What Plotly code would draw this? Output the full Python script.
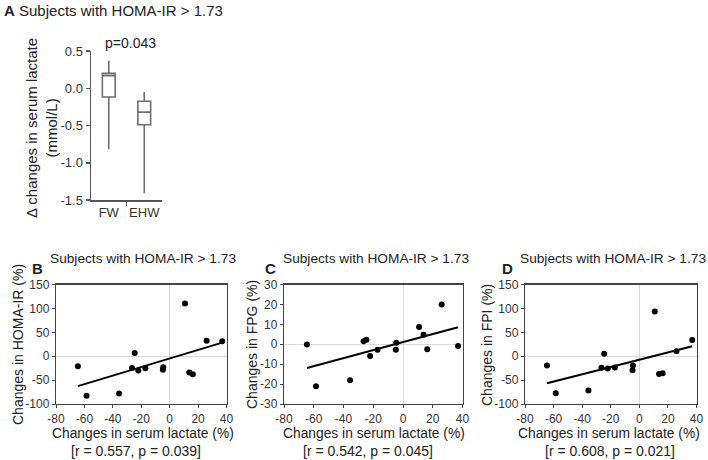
import numpy as np
import plotly.graph_objects as go

W, H = 708, 460
FONT = "Liberation Sans, Arial, sans-serif"

# ---------------- data ----------------
box_groups = ["FW", "EHW"]
box_upper = [0.37, -0.05]
box_q3 = [0.20, -0.175]
box_median = [0.17, -0.32]
box_q1 = [-0.117, -0.49]
box_lower = [-0.82, -1.41]

lactate_change = [-64.6, -58.5, -35.6, -24.6, -26.5, -22.1, -17.1, -4.8, -4.5, 10.8, 13.8, 16.3, 26.0, 37.0]
homa_change = [-21.0, -83.0, -78.0, 6.5, -24.7, -30.0, -25.0, -28.5, -23.0, 110.0, -34.0, -37.5, 32.5, 31.4]
fpg_change = [-0.1, -21.1, -18.1, 2.2, 1.5, -5.9, -2.8, -2.8, 0.8, 8.6, 4.8, -2.5, 19.9, -0.9]
fpi_change = [-19.5, -77.6, -72.0, 5.0, -24.4, -25.8, -23.7, -29.3, -19.5, 93.5, -37.0, -35.5, 10.6, 34.0]

a_yticks = [-1.5, -1.0, -0.5, 0.0, 0.5]
a_yticklabels = ["-1.5", "-1.0", "-0.5", "0.0", "0.5"]
lact_ticks = [-80, -60, -40, -20, 0, 20, 40]
lact_ticklabels = ["-80", "-60", "-40", "-20", "0", "20", "40"]
homa_ticks = [-100, -50, 0, 50, 100, 150]
homa_ticklabels = ["-100", "-50", "0", "50", "100", "150"]
fpg_ticks = [-30, -20, -10, 0, 10, 20, 30]
fpg_ticklabels = ["-30", "-20", "-10", "0", "10", "20", "30"]

panel_titles = ["Subjects with HOMA-IR > 1.73"] * 4
p_text_a = "p=0.043"
y_titles = ["Changes in HOMA-IR (%)", "Changes in FPG (%)", "Changes in FPI (%)"]
x_title = "Changes in serum lactate (%)"
stat_texts = ["[r = 0.557, p = 0.039]", "[r = 0.542, p = 0.045]", "[r = 0.608, p = 0.021]"]

# ---------------- helpers ----------------
def px_x(p):
    return p / W

def px_y(p):
    return 1 - p / H

fig = go.Figure()

# Panel A box plot
fig.add_trace(go.Box(
    x=[0, 1], q1=box_q1, median=box_median, q3=box_q3,
    lowerfence=box_lower, upperfence=box_upper,
    width=0.36, whiskerwidth=0, boxpoints=False,
    fillcolor="white", line=dict(color="#6e6e6e", width=1.6),
    xaxis="x", yaxis="y", showlegend=False, hoverinfo="skip",
))

series = [homa_change, fpg_change, fpi_change]
axes_ids = [("x2", "y2"), ("x3", "y3"), ("x4", "y4")]
for ys, (xa, ya) in zip(series, axes_ids):
    xs = np.array(lactate_change)
    yv = np.array(ys)
    k, b = np.polyfit(xs, yv, 1)
    lx = np.array([xs.min(), xs.max()])
    fig.add_trace(go.Scatter(x=lx, y=k * lx + b, mode="lines",
                             line=dict(color="black", width=2),
                             xaxis=xa, yaxis=ya, showlegend=False, hoverinfo="skip"))
    fig.add_trace(go.Scatter(x=xs, y=yv, mode="markers",
                             marker=dict(color="black", size=6),
                             xaxis=xa, yaxis=ya, showlegend=False))

tickfont_a = dict(family=FONT, size=13, color="#333")
tickfont = dict(family=FONT, size=12, color="#333")

layout = dict(
    width=W, height=H, margin=dict(l=0, r=0, t=0, b=0, autoexpand=False),
    paper_bgcolor="white", plot_bgcolor="white",
    font=dict(family=FONT, color="#222"),
    showlegend=False,
    xaxis=dict(domain=[px_x(91), px_x(162)], range=[-0.5, 1.5],
               tickvals=[0, 1], ticktext=box_groups, ticks="",
               showline=True, linecolor="#555", linewidth=1.5,
               showgrid=False, zeroline=False, tickfont=tickfont_a,
               minor=dict(tickvals=[0.5], ticks="outside", ticklen=4, tickcolor="#555", tickwidth=1.5),
               anchor="y", fixedrange=True, automargin=False),
    yaxis=dict(domain=[px_y(200), px_y(51)], range=[-1.5, 0.5],
               tickvals=a_yticks, ticktext=a_yticklabels, ticks="outside", ticklen=4,
               tickcolor="#555", tickwidth=1.5,
               showline=True, linecolor="#555", linewidth=1.5,
               showgrid=False, zeroline=False, tickfont=tickfont_a,
               anchor="x", fixedrange=True, automargin=False),
)

panel_px = [(56, 226.5), (284, 462.5), (525, 696.5)]
ranges = [([-100, 150], homa_ticks, homa_ticklabels),
          ([-30, 30], fpg_ticks, fpg_ticklabels),
          ([-100, 150], homa_ticks, homa_ticklabels)]
for i, ((x0, x1), (yr, yt, ytl)) in enumerate(zip(panel_px, ranges)):
    n = i + 2
    layout[f"xaxis{n}"] = dict(domain=[px_x(x0), px_x(x1)], range=[-80, 40],
                               tickvals=lact_ticks, ticktext=lact_ticklabels,
                               ticks="outside", ticklen=3, tickcolor="#444",
                               showline=True, mirror=True, linecolor="#444", linewidth=1.2,
                               showgrid=False, zeroline=True, zerolinecolor="#d8d8d8", zerolinewidth=1,
                               tickfont=tickfont, anchor=f"y{n}", fixedrange=True, automargin=False)
    layout[f"yaxis{n}"] = dict(domain=[px_y(404), px_y(284.5)], range=yr,
                               tickvals=yt, ticktext=ytl,
                               ticks="outside", ticklen=3, tickcolor="#444",
                               showline=True, mirror=True, linecolor="#444", linewidth=1.2,
                               showgrid=False, zeroline=True, zerolinecolor="#d8d8d8", zerolinewidth=1,
                               tickfont=tickfont, anchor=f"x{n}", fixedrange=True, automargin=False)

fig.update_layout(**layout)

def ann(text, x, y, size, xanchor="center", angle=0, bold=False):
    if bold:
        text = f"<b>{text}</b>"
    fig.add_annotation(text=text, x=px_x(x), y=px_y(y), xref="paper", yref="paper",
                       xanchor=xanchor, yanchor="middle", showarrow=False, borderpad=0,
                       textangle=angle, font=dict(family=FONT, size=size, color="#222"))

# Panel A texts
ann("<b>A</b> " + panel_titles[0], 3, 11, 15, xanchor="left")
ann(p_text_a, 130, 43, 14)
ann("Δ changes in serum lactate<br>(mmol/L)", 42, 128, 15, angle=-90)

letters = ["B", "C", "D"]
letter_x = [37, 270, 507]
title_x = [49, 282, 519]
ytitle_x = [18, 252, 487]
xtitle_x = [143, 374, 609]
stat_x = [136, 368, 610]
for i in range(3):
    ann(letters[i], letter_x[i], 268, 15, bold=True)
    ann(panel_titles[i + 1], title_x[i], 258, 13.7, xanchor="left")
    ann(y_titles[i], ytitle_x[i], 345, 14, angle=-90)
    ann(x_title, xtitle_x[i], 433, 13.8)
    ann(stat_texts[i], stat_x[i], 451, 14)

fig.write_html(
    "out.html",
    config={"displayModeBar": False, "staticPlot": True},
    post_script="document.body.style.margin='0';document.body.style.overflow='hidden';",
)
